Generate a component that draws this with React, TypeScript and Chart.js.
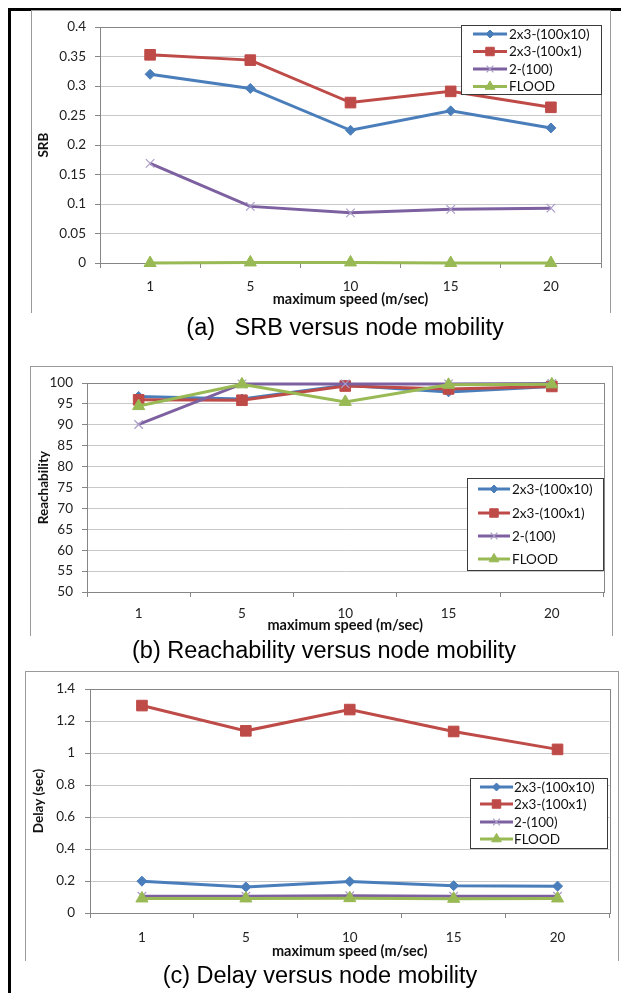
import React, { useEffect, useRef } from 'react';
import { Chart, registerables } from 'chart.js';

Chart.register(...registerables);

// ---------------- data ----------------
const speeds = ['1', '5', '10', '15', '20'];
const seriesNames = ['2x3-(100x10)', '2x3-(100x1)', '2-(100)', 'FLOOD'];

const srbMesh10 = [0.32, 0.296, 0.225, 0.258, 0.229];
const srbMesh1 = [0.353, 0.344, 0.272, 0.291, 0.264];
const srbTwo = [0.169, 0.096, 0.085, 0.091, 0.093];
const srbFlood = [0, 0.001, 0.001, 0, 0];
const srbTicks = [0, 0.05, 0.1, 0.15, 0.2, 0.25, 0.3, 0.35, 0.4];

const reachMesh10 = [96.8, 96.2, 99.5, 97.9, 99.2];
const reachMesh1 = [96.0, 95.9, 99.3, 98.6, 99.2];
const reachTwo = [90.1, 99.8, 99.8, 99.8, 99.9];
const reachFlood = [94.5, 99.7, 95.5, 99.6, 99.7];
const reachTicks = [50, 55, 60, 65, 70, 75, 80, 85, 90, 95, 100];

const delayMesh10 = [0.199, 0.163, 0.197, 0.171, 0.168];
const delayMesh1 = [1.297, 1.139, 1.272, 1.135, 1.023];
const delayTwo = [0.105, 0.105, 0.108, 0.105, 0.105];
const delayFlood = [0.091, 0.091, 0.093, 0.089, 0.091];
const delayTicks = [0, 0.2, 0.4, 0.6, 0.8, 1, 1.2, 1.4];

// ---------------- styles ----------------
const lineColors = ['#4A7EBB', '#BE4B48', '#7D60A0', '#98B954'];
const markerFill = ['#4A7EBB', '#BE4B48', '#A99BC7', '#98B954'];
const markerStyles = ['rectRot', 'rect', 'crossRot', 'triangle'];
const markerRadius = [5, 7.5, 6, 7];
const markerBorderW = [1, 1, 1.2, 1];

const FONT = 'Lato, "Open Sans", "DejaVu Sans", sans-serif';
const AXIS = '#868686';
const GRID = '#c9c9c9';
const TICK_TXT = '#222';

function drawMarker(ctx: CanvasRenderingContext2D, style: string, x: number, y: number, r: number, fill: string, stroke: string, bw: number) {
  ctx.save();
  ctx.fillStyle = fill;
  ctx.strokeStyle = stroke;
  ctx.lineWidth = bw;
  ctx.beginPath();
  if (style === 'rectRot') {
    ctx.moveTo(x, y - r); ctx.lineTo(x + r, y); ctx.lineTo(x, y + r); ctx.lineTo(x - r, y); ctx.closePath();
    ctx.fill(); ctx.stroke();
  } else if (style === 'rect') {
    const s = r * Math.SQRT1_2;
    ctx.rect(x - s, y - s, 2 * s, 2 * s);
    ctx.fill(); ctx.stroke();
  } else if (style === 'crossRot') {
    const s = r * Math.SQRT1_2;
    ctx.moveTo(x - s, y - s); ctx.lineTo(x + s, y + s);
    ctx.moveTo(x + s, y - s); ctx.lineTo(x - s, y + s);
    ctx.stroke();
  } else {
    const a = 2 * Math.PI / 3;
    ctx.moveTo(x, y - r);
    ctx.lineTo(x + Math.sin(a) * r, y - Math.cos(a) * r);
    ctx.lineTo(x + Math.sin(2 * a) * r, y - Math.cos(2 * a) * r);
    ctx.closePath();
    ctx.fill(); ctx.stroke();
  }
  ctx.restore();
}

const plotBorderPlugin = {
  id: 'plotBorder',
  beforeDatasetsDraw(chart: any) {
    const { ctx, chartArea } = chart;
    ctx.save();
    ctx.strokeStyle = AXIS;
    ctx.lineWidth = 1;
    ctx.strokeRect(Math.round(chartArea.left) + 0.5, Math.round(chartArea.top) + 0.5,
      Math.round(chartArea.right - chartArea.left), Math.round(chartArea.bottom - chartArea.top));
    ctx.restore();
  },
};

const boxLegendPlugin = {
  id: 'boxLegend',
  afterDraw(chart: any, _args: any, L: any) {
    if (!L || !L.rows) return;
    const ctx: CanvasRenderingContext2D = chart.ctx;
    ctx.save();
    ctx.fillStyle = '#fff';
    ctx.fillRect(L.x, L.y, L.w, L.h);
    ctx.strokeStyle = '#3a3a3a';
    ctx.lineWidth = 1;
    ctx.strokeRect(L.x + 0.5, L.y + 0.5, L.w, L.h);
    chart.data.datasets.forEach((ds: any, i: number) => {
      const y = L.rows[i];
      ctx.strokeStyle = ds.borderColor;
      ctx.lineWidth = 3;
      ctx.beginPath();
      ctx.moveTo(L.lineX1, y);
      ctx.lineTo(L.lineX2, y);
      ctx.stroke();
      drawMarker(ctx, ds.pointStyle, (L.lineX1 + L.lineX2) / 2, y, ds.pointRadius * 0.8,
        ds.pointBackgroundColor, ds.pointBorderColor, ds.pointBorderWidth);
      ctx.fillStyle = '#111';
      ctx.font = `13.5px ${FONT}`;
      ctx.textBaseline = 'middle';
      ctx.textAlign = 'left';
      ctx.fillText(ds.label, L.textX, y + 0.5);
    });
    ctx.restore();
  },
};

type Panel = {
  box: { left: number; top: number; width: number; height: number };
  plot: { left: number; top: number; right: number; bottom: number };
  yTitle: string;
  yTicks: number[];
  series: number[][];
  legend: any;
  xTickPad: number;
  yTickPad: number;
  xTitlePad: number;
  yTitlePad: number;
  caption: string;
  captionCenter: number;
  captionY: number;
};

const panels: Panel[] = [
  {
    box: { left: 31, top: 10, width: 579, height: 302 },
    plot: { left: 69, top: 15, right: 570, bottom: 253 },
    yTitle: 'SRB',
    yTicks: srbTicks,
    series: [srbMesh10, srbMesh1, srbTwo, srbFlood],
    legend: { x: 430, y: 15, w: 140, h: 69, rows: [24, 41.5, 59, 76.5], lineX1: 442, lineX2: 476, textX: 478 },
    xTickPad: 11, yTickPad: 9, xTitlePad: 3.5, yTitlePad: 4.5,
    caption: '(a)   SRB versus node mobility', captionCenter: 345, captionY: 327,
  },
  {
    box: { left: 30, top: 366, width: 582, height: 269 },
    plot: { left: 57, top: 16, right: 574, bottom: 226 },
    yTitle: 'Reachability',
    yTicks: reachTicks,
    series: [reachMesh10, reachMesh1, reachTwo, reachFlood],
    legend: { x: 437, y: 112, w: 136, h: 92, rows: [123, 147, 170, 193], lineX1: 448, lineX2: 480, textX: 482 },
    xTickPad: 9, yTickPad: 9, xTitlePad: 1, yTitlePad: 5.5,
    caption: '(b) Reachability versus node mobility', captionCenter: 324, captionY: 650,
  },
  {
    box: { left: 25, top: 671, width: 593, height: 289 },
    plot: { left: 65, top: 15, right: 589, bottom: 242 },
    yTitle: 'Delay (sec)',
    yTicks: delayTicks,
    series: [delayMesh10, delayMesh1, delayTwo, delayFlood],
    legend: { x: 445, y: 107, w: 137, h: 70, rows: [116, 133, 151, 168], lineX1: 455, lineX2: 488, textX: 489 },
    xTickPad: 12, yTickPad: 10, xTitlePad: 0, yTitlePad: 5.5,
    caption: '(c) Delay versus node mobility', captionCenter: 320, captionY: 975,
  },
];

function LineChartPanel({ p }: { p: Panel }) {
  const ref = useRef<HTMLCanvasElement | null>(null);
  useEffect(() => {
    if (!ref.current) return;
    const datasets = p.series.map((vals, i) => ({
      label: seriesNames[i],
      data: vals,
      borderColor: lineColors[i],
      backgroundColor: lineColors[i],
      borderWidth: 3,
      pointStyle: markerStyles[i],
      pointRadius: markerRadius[i],
      pointBackgroundColor: markerFill[i],
      pointBorderColor: markerFill[i],
      pointBorderWidth: markerBorderW[i],
      tension: 0,
      clip: false as any,
      order: 3 - i,
    }));
    const chart = new Chart(ref.current, {
      type: 'line',
      data: { labels: speeds, datasets },
      options: {
        responsive: true,
        maintainAspectRatio: false,
        animation: false,
        events: [],
        layout: { padding: { left: 0, top: p.plot.top, right: p.box.width - p.plot.right, bottom: 0 } },
        plugins: {
          legend: { display: false },
          tooltip: { enabled: false },
          boxLegend: p.legend,
        } as any,
        scales: {
          x: {
            type: 'category',
            offset: true,
            grid: { offset: true, drawOnChartArea: false, drawTicks: true, tickLength: 5, color: AXIS },
            border: { color: AXIS },
            ticks: { font: { family: FONT, size: 13.5 }, color: TICK_TXT, padding: p.xTickPad, maxRotation: 0, autoSkip: false },
            title: {
              display: true, text: 'maximum speed (m/sec)', color: '#111',
              font: { family: FONT, size: 14.5, weight: 'bold' },
              padding: { top: 0, bottom: p.xTitlePad },
            },
            afterFit: (s: any) => { s.height = p.box.height - p.plot.bottom; },
          },
          y: {
            min: p.yTicks[0],
            max: p.yTicks[p.yTicks.length - 1],
            afterBuildTicks: (s: any) => { s.ticks = p.yTicks.map((v) => ({ value: v })); },
            grid: { color: GRID, tickColor: AXIS, tickLength: 5 },
            border: { color: AXIS },
            ticks: { font: { family: FONT, size: 13.5 }, color: TICK_TXT, padding: p.yTickPad, callback: (v: any) => String(v) },
            title: {
              display: true, text: p.yTitle, color: '#111',
              font: { family: FONT, size: 13.5, weight: 'bold' },
              padding: { top: p.yTitlePad, bottom: 0 },
            },
            afterFit: (s: any) => { s.width = p.plot.left; },
          },
        },
      } as any,
      plugins: [plotBorderPlugin, boxLegendPlugin],
    });
    return () => chart.destroy();
  }, [p]);

  return (
    <>
      <div style={{ position: 'absolute', left: p.box.left, top: p.box.top, width: p.box.width, height: p.box.height }}>
        <canvas ref={ref} />
      </div>
      <div
        style={{
          position: 'absolute', left: p.box.left, top: p.box.top, width: p.box.width - 1, height: p.box.height,
          borderTop: '1px solid #9a9a9a', borderLeft: '1px solid #9a9a9a', borderRight: '1px solid #9a9a9a',
          pointerEvents: 'none',
        }}
      />
      <div
        style={{
          position: 'absolute', left: p.captionCenter - 260, width: 520, top: p.captionY - 14, height: 28,
          lineHeight: '28px', textAlign: 'center', whiteSpace: 'pre',
          fontFamily: '"Liberation Sans", Arial, sans-serif', fontSize: 23.5, color: '#000',
        }}
      >
        {p.caption}
      </div>
    </>
  );
}

export default function App() {
  return (
    <div style={{ position: 'absolute', left: 0, top: 0, width: 621, height: 993, background: '#fff', overflow: 'hidden' }}>
      <div style={{ position: 'absolute', left: 8, top: 8, width: 613, height: 3, background: '#000' }} />
      <div style={{ position: 'absolute', left: 8, top: 8, width: 3, height: 985, background: '#000' }} />
      {panels.map((p, i) => (
        <LineChartPanel key={i} p={p} />
      ))}
    </div>
  );
}
